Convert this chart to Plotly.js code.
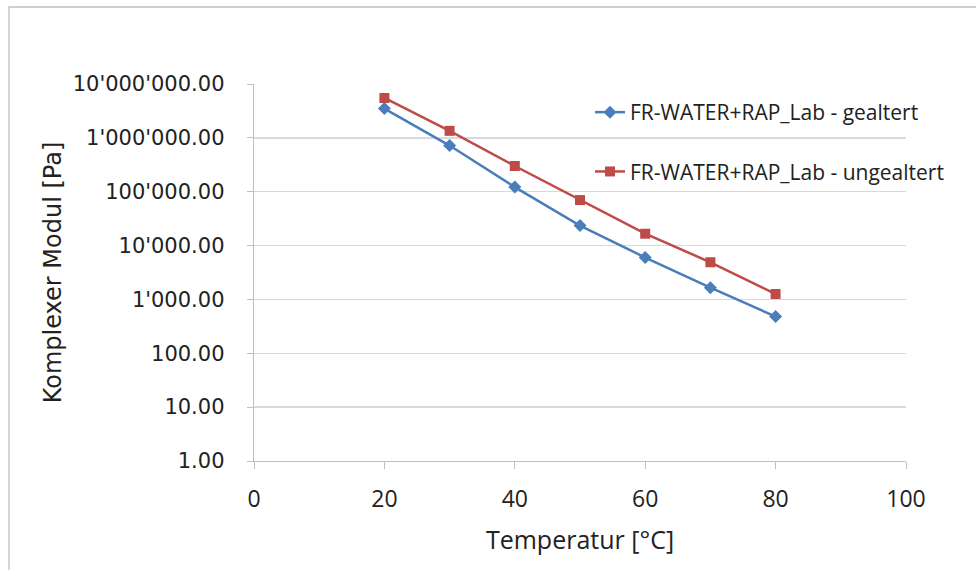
<!DOCTYPE html>
<html>
<head>
<meta charset="utf-8">
<script src="https://cdn.plot.ly/plotly-3.0.1.min.js"></script>
<style>html,body{margin:0;padding:0;background:#fff;}#chart{width:976px;height:570px;}</style>
</head>
<body>
<div id="chart"></div>
<script>
const temperatures = [20, 30, 40, 50, 60, 70, 80];
const gealtert = [3.5e6, 7.2e5, 1.22e5, 2.35e4, 6.0e3, 1.65e3, 480];
const ungealtert = [5.5e6, 1.35e6, 3.0e5, 7.0e4, 1.66e4, 4.9e3, 1.26e3];
const seriesNames = ['FR-WATER+RAP_Lab - gealtert', 'FR-WATER+RAP_Lab - ungealtert'];
const yTickVals = [1, 10, 100, 1000, 10000, 100000, 1000000, 10000000];
const yTickText = ['1.00', '10.00', '100.00', "1'000.00", "10'000.00", "100'000.00", "1'000'000.00", "10'000'000.00"];
const xTickVals = [0, 20, 40, 60, 80, 100];

const L = 254, R = 70, T = 84, B = 109, W = 976, H = 570;
const pw = W - L - R, ph = H - T - B;

const traces = [
  {x: temperatures, y: gealtert, name: seriesNames[0], type: 'scatter', mode: 'lines+markers',
   legendgroup: 'a',
   line: {color: '#4a7ebb', width: 2.5}, marker: {symbol: 'diamond', size: 10, color: '#4a7ebb'}},
  {x: temperatures, y: ungealtert, name: seriesNames[1], type: 'scatter', mode: 'lines+markers',
   legendgroup: 'b',
   line: {color: '#be4b48', width: 2.5}, marker: {symbol: 'square', size: 10, color: '#be4b48'}}
];

const layout = {
  width: W, height: H,
  margin: {l: L, r: R, t: T, b: B, pad: 0},
  paper_bgcolor: '#ffffff', plot_bgcolor: '#ffffff',
  showlegend: true,
  legend: {x: (590 - L) / pw, y: (H - B - 92) / ph, xanchor: 'left', yanchor: 'top',
    bgcolor: 'rgba(0,0,0,0)', font: {family: 'Open Sans', size: 21, color: '#222'},
    tracegroupgap: 29, traceorder: 'grouped', itemwidth: 30},
  xaxis: {range: [0, 100], tickvals: xTickVals, showgrid: false, zeroline: false,
    showline: true, linecolor: '#bfbfbf', linewidth: 1.3, ticks: 'outside', ticklen: 7, tickcolor: '#bfbfbf',
    ticklabelstandoff: 10,
    tickfont: {family: 'Open Sans', size: 23, color: '#222'},
    title: {text: 'Temperatur [°C]', font: {family: 'Open Sans', size: 25, color: '#222'}, standoff: 18}},
  yaxis: {type: 'log', range: [0, 7], tickvals: yTickVals, ticktext: yTickText,
    showgrid: true, gridcolor: '#d9d9d9', gridwidth: 1.3, zeroline: false,
    showline: true, linecolor: '#bfbfbf', linewidth: 1.3, ticks: 'outside', ticklen: 6, tickcolor: '#bfbfbf',
    ticklabelstandoff: 18,
    tickfont: {family: 'DejaVu Sans', size: 21, color: '#222'},
    title: {text: 'Komplexer Modul [Pa]', font: {family: 'DejaVu Sans', size: 24, color: '#222'}, standoff: 4}},
  shapes: [{type: 'rect', xref: 'paper', yref: 'paper',
    x0: (9 - L) / pw, x1: (W + 10 - L) / pw, y0: (H - B - (H + 10)) / ph, y1: (H - B - 7) / ph,
    line: {color: '#bfbfbf', width: 1.3}, fillcolor: 'rgba(0,0,0,0)', layer: 'below'}]
};

Plotly.newPlot('chart', traces, layout, {displayModeBar: false, staticPlot: true});
</script>
</body>
</html>
